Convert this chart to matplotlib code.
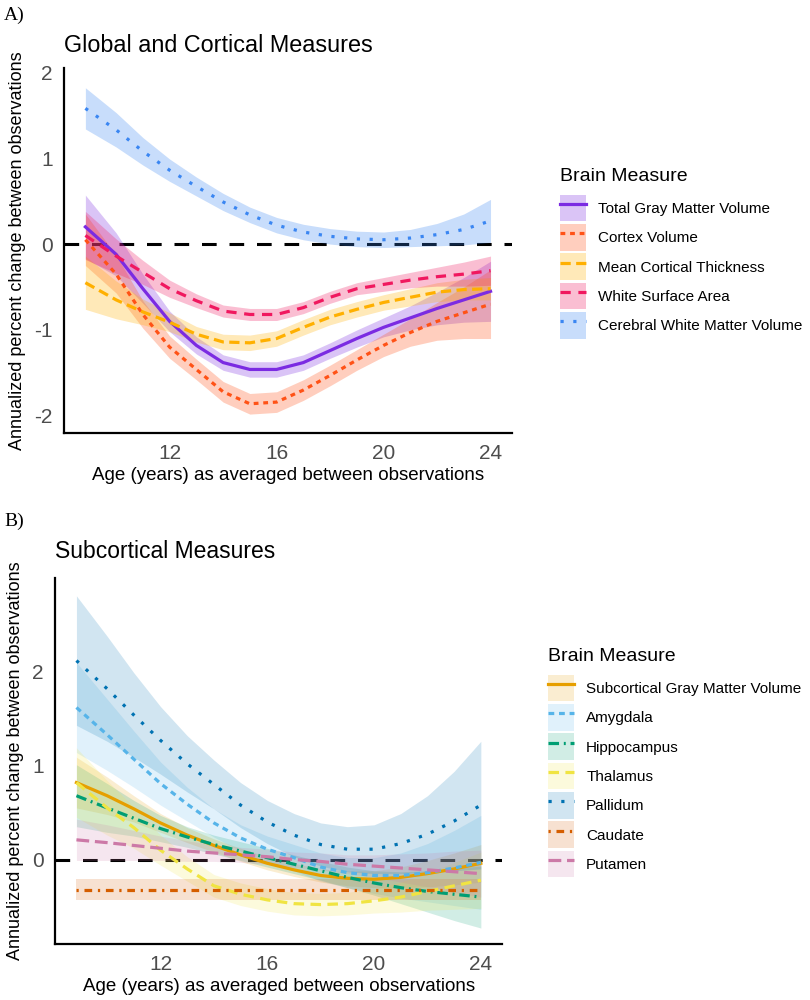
import numpy as np
import matplotlib
matplotlib.use("Agg")
import matplotlib.pyplot as plt
from matplotlib.patches import Patch
from matplotlib.lines import Line2D

plt.rcParams['font.family'] = ['Liberation Sans', 'DejaVu Sans']

# ---------------- data ----------------
ages = [8.85, 10, 11, 12, 13, 14, 15, 16, 17, 18, 19, 20, 21, 22, 23, 24]

# panel A: global and cortical
names_a = ["Total Gray Matter Volume", "Cortex Volume", "Mean Cortical Thickness",
           "White Surface Area", "Cerebral White Matter Volume"]
gray_vol = [0.20, -0.12, -0.52, -0.90, -1.18, -1.38, -1.46, -1.46, -1.38, -1.24, -1.10, -0.97, -0.86, -0.75, -0.65, -0.55]
gray_se = [0.37, 0.25, 0.17, 0.12, 0.10, 0.09, 0.09, 0.09, 0.09, 0.09, 0.10, 0.11, 0.14, 0.19, 0.26, 0.35]
cortex_vol = [0.05, -0.35, -0.82, -1.20, -1.46, -1.72, -1.86, -1.84, -1.70, -1.53, -1.35, -1.18, -1.03, -0.90, -0.80, -0.70]
cortex_se = [0.30, 0.22, 0.16, 0.13, 0.12, 0.12, 0.12, 0.12, 0.12, 0.12, 0.12, 0.13, 0.16, 0.22, 0.30, 0.40]
thickness = [-0.45, -0.65, -0.79, -0.91, -1.05, -1.14, -1.15, -1.10, -0.97, -0.85, -0.76, -0.68, -0.62, -0.56, -0.53, -0.52]
thickness_se = [0.31, 0.22, 0.15, 0.11, 0.09, 0.09, 0.09, 0.09, 0.09, 0.09, 0.09, 0.09, 0.10, 0.11, 0.12, 0.13]
surface = [0.10, -0.14, -0.33, -0.52, -0.66, -0.78, -0.82, -0.82, -0.74, -0.62, -0.52, -0.47, -0.42, -0.38, -0.35, -0.31]
surface_se = [0.28, 0.20, 0.14, 0.10, 0.08, 0.07, 0.07, 0.07, 0.07, 0.07, 0.07, 0.08, 0.09, 0.11, 0.14, 0.17]
white_vol = [1.58, 1.33, 1.08, 0.86, 0.67, 0.49, 0.34, 0.22, 0.14, 0.09, 0.06, 0.05, 0.07, 0.11, 0.17, 0.27]
white_se = [0.24, 0.20, 0.16, 0.13, 0.11, 0.10, 0.09, 0.09, 0.09, 0.09, 0.09, 0.09, 0.10, 0.13, 0.18, 0.25]

# panel B: subcortical
names_b = ["Subcortical Gray Matter Volume", "Amygdala", "Hippocampus", "Thalamus",
           "Pallidum", "Caudate", "Putamen"]
subcort = [0.82, 0.68, 0.54, 0.39, 0.26, 0.15, 0.05, -0.04, -0.11, -0.17, -0.20, -0.21, -0.19, -0.15, -0.10, -0.04]
subcort_se = [0.27, 0.20, 0.14, 0.10, 0.08, 0.07, 0.07, 0.07, 0.07, 0.07, 0.08, 0.09, 0.11, 0.14, 0.17, 0.20]
amygdala = [1.62, 1.33, 1.07, 0.81, 0.59, 0.39, 0.23, 0.11, 0.02, -0.08, -0.14, -0.17, -0.17, -0.14, -0.09, -0.03]
amygdala_se = [0.48, 0.38, 0.30, 0.23, 0.18, 0.15, 0.14, 0.14, 0.14, 0.15, 0.16, 0.19, 0.24, 0.31, 0.40, 0.50]
hippo = [0.68, 0.55, 0.44, 0.33, 0.24, 0.16, 0.09, 0.02, -0.05, -0.12, -0.19, -0.25, -0.30, -0.34, -0.37, -0.40]
hippo_se = [0.33, 0.26, 0.19, 0.14, 0.11, 0.10, 0.10, 0.10, 0.10, 0.10, 0.11, 0.13, 0.17, 0.22, 0.28, 0.33]
thalamus = [0.82, 0.55, 0.34, 0.10, -0.10, -0.28, -0.37, -0.43, -0.47, -0.48, -0.47, -0.44, -0.40, -0.34, -0.28, -0.22]
thalamus_se = [0.37, 0.29, 0.22, 0.16, 0.13, 0.12, 0.12, 0.12, 0.12, 0.12, 0.12, 0.13, 0.16, 0.20, 0.25, 0.30]
pallidum = [2.12, 1.82, 1.54, 1.27, 1.02, 0.80, 0.58, 0.40, 0.26, 0.16, 0.11, 0.11, 0.17, 0.27, 0.41, 0.58]
pallidum_se = [0.69, 0.56, 0.45, 0.36, 0.30, 0.26, 0.24, 0.23, 0.23, 0.23, 0.24, 0.26, 0.32, 0.41, 0.53, 0.68]
caudate = [-0.32, -0.32, -0.32, -0.32, -0.32, -0.32, -0.32, -0.32, -0.32, -0.32, -0.32, -0.32, -0.32, -0.32, -0.32, -0.32]
caudate_se = [0.11, 0.11, 0.11, 0.11, 0.11, 0.11, 0.11, 0.11, 0.11, 0.11, 0.11, 0.11, 0.11, 0.11, 0.11, 0.11]
putamen = [0.21, 0.18, 0.15, 0.12, 0.09, 0.07, 0.05, 0.03, 0.00, -0.02, -0.05, -0.07, -0.09, -0.11, -0.13, -0.15]
putamen_se = [0.22, 0.19, 0.16, 0.13, 0.11, 0.09, 0.08, 0.08, 0.08, 0.09, 0.10, 0.12, 0.15, 0.18, 0.22, 0.25]

# ---------------- styles ----------------
vals_a = [gray_vol, cortex_vol, thickness, surface, white_vol]
ses_a = [gray_se, cortex_se, thickness_se, surface_se, white_se]
cols_a = ["#7B2BE2", "#FF5216", "#FFB000", "#F0185F", "#3A86F2"]
dash_a = [None, (1.5, 1.5), (3.2, 1.7), (3.2, 2.4), (1.0, 3.0)]

vals_b = [subcort, amygdala, hippo, thalamus, pallidum, caudate, putamen]
ses_b = [subcort_se, amygdala_se, hippo_se, thalamus_se, pallidum_se, caudate_se, putamen_se]
cols_b = ["#E69F00", "#56B4E9", "#009E73", "#F0E442", "#0072B2", "#D55E00", "#CC79A7"]
dash_b = [None, (1.8, 1.5), (3.3, 1.5, 0.6, 1.5), (3.3, 2.0), (1.0, 3.0), (0.7, 1.8, 2.4, 1.8), (4.0, 1.8)]

LW = 2.3


def draw_panel(ax, vals, ses, cols, dashes, band_alpha, ylim, yticks):
    ax.axhline(0, color="black", lw=2.2, dashes=(4.8, 4.2), zorder=1)
    x = np.array(ages)
    for v, s, c in zip(vals, ses, cols):
        v = np.array(v)
        s = np.array(s)
        ax.fill_between(x, v - s, v + s, color=c, alpha=band_alpha, lw=0, zorder=2)
    for v, c, d in zip(vals, cols, dashes):
        ln, = ax.plot(x, v, color=c, lw=LW, zorder=3)
        if d is not None:
            ln.set_dashes(d)
    ax.set_xlim(8.05, 24.8)
    ax.set_ylim(*ylim)
    ax.set_xticks([12, 16, 20, 24])
    ax.set_yticks(yticks)
    ax.set_yticklabels([str(t) for t in yticks])
    for s in ["top", "right"]:
        ax.spines[s].set_visible(False)
    for s in ["left", "bottom"]:
        ax.spines[s].set_linewidth(1.6)
    ax.tick_params(length=0, labelsize=15, labelcolor="#4D4D4D", pad=8)
    ax.set_xlabel("Age (years) as averaged between observations", fontsize=13.5, labelpad=3)
    ax.set_ylabel("Annualized percent change between observations", fontsize=13, labelpad=6)


def make_legend(fig, names, cols, dashes, band_alpha, anchor):
    handles = []
    for c, d in zip(cols, dashes):
        p = Patch(facecolor=c, alpha=band_alpha, edgecolor="none")
        l = Line2D([], [], color=c, lw=LW)
        if d is not None:
            l.set_dashes(d)
        handles.append((p, l))
    leg = fig.legend(handles, names, loc="upper left", bbox_to_anchor=anchor,
                     frameon=False, fontsize=11, title="Brain Measure",
                     title_fontsize=14, alignment="left", handlelength=1.7,
                     handleheight=2.3, labelspacing=0.18, handletextpad=0.8,
                     borderaxespad=0)
    # a bit more room under the title, as in the original
    leg._legend_box.sep = 7
    return leg


fig = plt.figure(figsize=(8.1, 10), dpi=100)

ax_a = fig.add_axes([0.079, 0.567, 0.553, 0.365])
draw_panel(ax_a, vals_a, ses_a, cols_a, dash_a, 0.28, (-2.2, 2.05), [-2, -1, 0, 1, 2])
make_legend(fig, names_a, cols_a, dash_a, 0.28, (0.684, 0.838))

ax_b = fig.add_axes([0.068, 0.056, 0.552, 0.366])
draw_panel(ax_b, vals_b, ses_b, cols_b, dash_b, 0.18, (-0.9, 3.0), [0, 1, 2])
make_legend(fig, names_b, cols_b, dash_b, 0.18, (0.669, 0.358))

fig.text(0.079, 0.955, "Global and Cortical Measures", fontsize=16.8, va="center", ha="left")
fig.text(0.068, 0.448, "Subcortical Measures", fontsize=16.5, va="center", ha="left")
fig.text(0.005, 0.985, "A)", fontsize=14, va="center", ha="left", family="Liberation Serif")
fig.text(0.005, 0.479, "B)", fontsize=14, va="center", ha="left", family="Liberation Serif")

fig.savefig("out.png", dpi=100)
